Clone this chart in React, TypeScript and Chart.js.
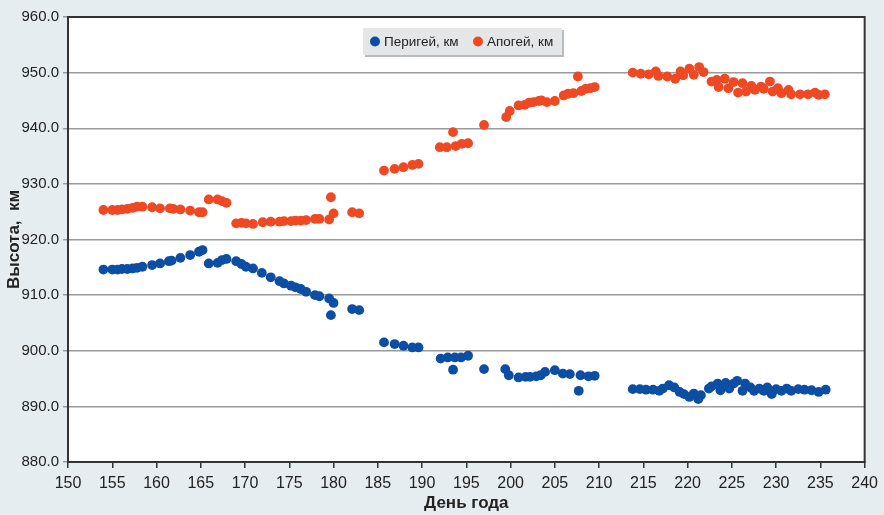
import React, { useEffect, useRef } from "react";
import { Chart, registerables } from "chart.js";

Chart.register(...registerables);

// ---- Data ----
const perigeeDays = [
  154.0, 155.0, 155.6, 156.1, 156.7, 157.3, 157.8, 158.4, 159.5, 160.4,
  161.4, 161.7, 162.7, 163.8, 164.8, 165.2, 165.9, 166.9, 167.4, 167.9,
  169.0, 169.6, 170.1, 170.9, 171.9, 172.9, 173.9, 174.4, 175.2, 175.7,
  176.3, 176.9, 177.9, 178.4, 179.5, 180.0, 179.7, 182.1, 182.9,
  185.7, 186.9, 187.9, 188.9, 189.6, 192.1, 192.9, 193.5, 193.7, 194.4,
  195.2, 197.0, 199.4, 199.8, 200.9, 201.7, 202.2, 202.9, 203.4, 203.9,
  205.0, 205.9, 206.7, 207.7, 207.9, 208.8, 209.5,
  213.8, 214.6, 215.3, 216.1, 216.8, 217.2, 217.9, 218.5, 219.1, 219.6,
  220.2, 220.7, 221.2, 221.5, 222.4, 222.7, 223.4, 223.7, 224.3, 224.7,
  225.2, 225.6, 226.2, 226.5, 227.1, 227.5, 228.1, 228.6, 229.0, 229.5,
  230.0, 230.6, 231.2, 231.7, 232.5, 233.2, 234.0, 234.8, 235.6,
];
const perigeeKm = [
  914.6, 914.6, 914.6, 914.7, 914.7, 914.8, 914.9, 915.1, 915.4, 915.7,
  916.1, 916.2, 916.7, 917.2, 917.8, 918.1, 915.7, 915.8, 916.3, 916.5,
  916.1, 915.6, 915.1, 914.8, 914.0, 913.2, 912.5, 912.1, 911.7, 911.4,
  911.1, 910.6, 910.0, 909.8, 909.4, 908.6, 906.4, 907.5, 907.3,
  901.5, 901.2, 900.9, 900.6, 900.6, 898.6, 898.8, 896.6, 898.8, 898.8,
  899.1, 896.7, 896.7, 895.6, 895.2, 895.3, 895.3, 895.4, 895.6, 896.2,
  896.5, 895.9, 895.8, 892.8, 895.6, 895.4, 895.5,
  893.1, 893.1, 893.0, 893.0, 892.8, 893.2, 893.8, 893.4, 892.6, 892.2,
  891.7, 892.3, 891.3, 892.0, 893.2, 893.6, 894.1, 892.9, 894.2, 893.2,
  894.1, 894.6, 892.8, 894.1, 893.4, 892.8, 893.2, 892.8, 893.4, 892.2,
  893.1, 892.8, 893.2, 892.8, 893.1, 893.0, 892.9, 892.6, 893.0,
];
const apogeeDays = [
  154.0, 155.0, 155.6, 156.1, 156.7, 157.3, 157.8, 158.4, 159.5, 160.4,
  161.5, 161.9, 162.7, 163.8, 164.8, 165.2, 165.9, 166.9, 167.4, 167.9,
  169.0, 169.6, 170.1, 170.9, 172.0, 172.9, 173.9, 174.4, 175.2, 175.7,
  176.3, 176.9, 177.9, 178.4, 179.5, 180.0, 179.7, 182.1, 182.9,
  185.7, 186.9, 187.9, 188.9, 189.6, 192.0, 192.8, 193.5, 193.8, 194.5,
  195.2, 197.0, 199.5, 199.9, 200.9, 201.6, 202.1, 202.6, 203.2, 203.5,
  204.1, 205.0, 206.0, 206.5, 207.1, 207.6, 208.0, 208.5, 209.0, 209.5,
  213.8, 214.7, 215.6, 216.4, 216.7, 217.7, 218.6, 219.2, 219.5, 220.2,
  220.7, 221.3, 221.8, 222.7, 223.3, 223.5, 224.2, 224.6, 225.2, 225.7,
  226.2, 226.6, 227.2, 227.6, 228.3, 228.6, 229.3, 229.6, 230.2, 230.6,
  231.4, 231.7, 232.7, 233.6, 234.4, 234.8, 235.5,
];
const apogeeKm = [
  925.3, 925.3, 925.3, 925.4, 925.5, 925.7, 925.9, 925.9, 925.8, 925.6,
  925.6, 925.5, 925.4, 925.2, 924.9, 924.9, 927.2, 927.2, 926.9, 926.6,
  922.9, 923.0, 922.9, 922.8, 923.1, 923.2, 923.2, 923.3, 923.3, 923.4,
  923.4, 923.5, 923.7, 923.7, 923.6, 924.7, 927.6, 924.9, 924.7,
  932.4, 932.7, 933.0, 933.4, 933.6, 936.6, 936.6, 939.3, 936.8, 937.2,
  937.3, 940.6, 942.0, 943.1, 944.1, 944.2, 944.6, 944.7, 944.9, 945.0,
  944.7, 944.9, 945.9, 946.2, 946.3, 949.3, 946.7, 947.1, 947.2, 947.4,
  950.0, 949.8, 949.7, 950.2, 949.4, 949.3, 948.9, 950.2, 949.5, 950.7,
  949.6, 951.0, 950.1, 948.4, 948.7, 947.4, 948.9, 947.2, 948.3, 946.4,
  948.1, 946.6, 947.6, 946.9, 947.5, 947.1, 948.4, 946.6, 947.2, 946.3,
  946.9, 946.1, 946.1, 946.1, 946.4, 946.0, 946.1,
];

const seriesLabels = ["Перигей, км", "Апогей, км"];
const xTitle = "День года";
const yTitle = "Высота,  км";
const xMin = 150, xMax = 240, xStep = 5;
const yMin = 880, yMax = 960, yStep = 10;

const BLUE = "#0b4ea4";
const ORANGE = "#ef4923";
const BG = "#e6edf1";
const NARROW = "'Liberation Sans Narrow', 'Liberation Sans', Arial, sans-serif";
const SANS = "'Liberation Sans', Arial, sans-serif";

const framePlugin = {
  id: "frame",
  beforeDraw(chart: any) {
    const { ctx, chartArea: a } = chart;
    ctx.save();
    ctx.fillStyle = "#ffffff";
    ctx.fillRect(a.left, a.top, a.right - a.left, a.bottom - a.top);
    ctx.restore();
  },
  afterDraw(chart: any) {
    const { ctx, chartArea: a } = chart;
    ctx.save();
    ctx.strokeStyle = "#333333";
    ctx.lineWidth = 2;
    ctx.strokeRect(a.left, a.top, a.right - a.left, a.bottom - a.top);

    // legend box inside the plot area
    const bw = 199, bh = 27;
    const bx = Math.round((a.left + a.right) / 2 - bw / 2 - 4);
    const by = a.top + 11;
    ctx.fillStyle = "#b9bdc0";
    ctx.fillRect(bx + 2, by + 2, bw, bh);
    ctx.fillStyle = "#e5e6e7";
    ctx.fillRect(bx, by, bw, bh);
    ctx.font = `13.5px ${SANS}`;
    ctx.textBaseline = "middle";
    ctx.textAlign = "left";
    const cy = by + bh / 2;
    const colors = [BLUE, ORANGE];
    const offsets = [12, 115];
    seriesLabels.forEach((lab, i) => {
      ctx.fillStyle = colors[i];
      ctx.beginPath();
      ctx.arc(bx + offsets[i], cy, 5, 0, Math.PI * 2);
      ctx.fill();
      ctx.fillStyle = "#222222";
      ctx.fillText(lab, bx + offsets[i] + 9, cy + 1);
    });
    ctx.restore();
  },
};

export default function App() {
  const ref = useRef<HTMLCanvasElement | null>(null);

  useEffect(() => {
    if (!ref.current) return;
    const perigee = perigeeDays.map((d, i) => ({ x: d, y: perigeeKm[i] }));
    const apogee = apogeeDays.map((d, i) => ({ x: d, y: apogeeKm[i] }));
    const chart = new Chart(ref.current, {
      type: "scatter",
      data: {
        datasets: [
          {
            label: seriesLabels[0],
            data: perigee,
            backgroundColor: BLUE,
            borderWidth: 0,
            pointRadius: 4.9,
          },
          {
            label: seriesLabels[1],
            data: apogee,
            backgroundColor: ORANGE,
            borderWidth: 0,
            pointRadius: 4.9,
          },
        ],
      },
      options: {
        animation: false,
        responsive: true,
        maintainAspectRatio: false,
        layout: { padding: { top: 17, right: 12, bottom: 0, left: 0 } },
        plugins: {
          legend: { display: false },
          tooltip: { enabled: false },
        },
        scales: {
          x: {
            type: "linear",
            min: xMin,
            max: xMax,
            afterFit: (s: any) => {
              s.height = 53;
            },
            ticks: {
              stepSize: xStep,
              padding: 6,
              color: "#222",
              font: { family: NARROW, size: 16 },
              maxRotation: 0,
            },
            grid: {
              drawOnChartArea: false,
              tickLength: 6,
              color: "#333",
              lineWidth: 1.5,
            },
            border: { color: "#333", width: 2 },
            title: {
              display: true,
              text: xTitle,
              color: "#222",
              font: { family: SANS, size: 17, weight: "bold" },
              padding: { top: 0, bottom: 1 },
            },
          },
          y: {
            type: "linear",
            min: yMin,
            max: yMax,
            afterFit: (s: any) => {
              s.width = 68;
            },
            ticks: {
              stepSize: yStep,
              padding: 4,
              color: "#222",
              font: { family: NARROW, size: 15 },
              callback: (v: any) => Number(v).toFixed(1),
            },
            grid: {
              color: "#9a9a9a",
              lineWidth: 1.5,
              tickLength: 5,
            },
            border: { color: "#333", width: 2 },
            title: {
              display: true,
              text: yTitle,
              color: "#222",
              font: { family: SANS, size: 17, weight: "bold" },
              padding: { top: 4, bottom: 4 },
            },
          },
        },
      },
      plugins: [framePlugin],
    });
    return () => chart.destroy();
  }, []);

  return (
    <div
      style={{
        position: "fixed",
        left: 0,
        top: 0,
        width: 884,
        height: 515,
        background: BG,
      }}
    >
      <canvas ref={ref} />
    </div>
  );
}
